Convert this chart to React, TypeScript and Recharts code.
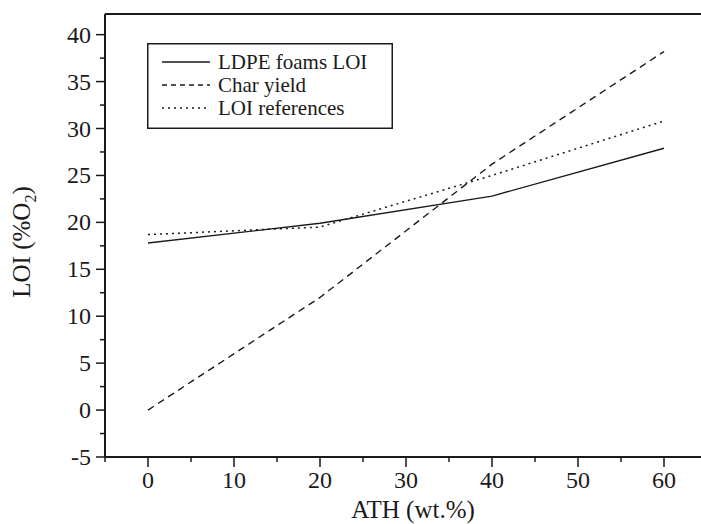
import React from "react";
import { LineChart, Line, XAxis, YAxis, ReferenceLine, Legend, Label } from "recharts";

// ATH content (wt.%)
const athContent = [0, 20, 40, 60];
const ldpeFoamsLoi = [17.8, 19.9, 22.8, 27.9];
const charYield = [0, 12, 26.2, 38.2];
const loiReferences = [18.7, 19.5, 25, 30.8];

const xTicks = [-5, 0, 5, 10, 15, 20, 25, 30, 35, 40, 45, 50, 55, 60, 65];
const yTicks = [-5, -2.5, 0, 2.5, 5, 7.5, 10, 12.5, 15, 17.5, 20, 22.5, 25, 27.5, 30, 32.5, 35, 37.5, 40];

const X_DOMAIN: [number, number] = [-5, 65];
const Y_DOMAIN: [number, number] = [-5, 42.2];

const series = [
  { key: "ldpe", name: "LDPE foams LOI", values: ldpeFoamsLoi, dash: undefined, legendDash: undefined, width: 1.4 },
  { key: "char", name: "Char yield", values: charYield, dash: "7 5", legendDash: "5 4", width: 1.4 },
  { key: "ref", name: "LOI references", values: loiReferences, dash: "2 4", legendDash: "2 4", width: 1.5 },
];

const data = athContent.map((ath, i) => {
  const row: any = { ath };
  series.forEach((s) => (row[s.key] = s.values[i]));
  return row;
});

const INK = "#1a1a1a";
const FONT = '"Liberation Serif", "Times New Roman", serif';

const XTick = ({ x, y, payload }: any) => {
  const major = payload.value % 10 === 0 && payload.value >= 0 && payload.value <= 60;
  return (
    <g>
      <line x1={x} x2={x} y1={y} y2={y + (major ? 10 : 5)} stroke={INK} strokeWidth={1.5} />
      {major && (
        <text x={x} y={y + 31} textAnchor="middle" fontSize={24} fontFamily={FONT} fill={INK}>
          {payload.value}
        </text>
      )}
    </g>
  );
};

const YTick = ({ x, y, payload }: any) => {
  const major = payload.value % 5 === 0;
  return (
    <g>
      <line x1={x - (major ? 9 : 5)} x2={x} y1={y} y2={y} stroke={INK} strokeWidth={1.5} />
      {major && (
        <text x={x - 14} y={y + 8} textAnchor="end" fontSize={24} fontFamily={FONT} fill={INK}>
          {String(payload.value)}
        </text>
      )}
    </g>
  );
};

// legend drawn in series order (recharts may reorder its payload)
const renderLegend = () => (
  <svg width={246} height={86} style={{ display: "block" }}>
    <rect x={0.75} y={0.75} width={244.5} height={84.5} fill="#fff" stroke={INK} strokeWidth={1.5} />
    {series.map((s, i) => {
      const cy = 19 + i * 23;
      return (
        <g key={s.key}>
          <line x1={15} x2={63} y1={cy} y2={cy} stroke={INK} strokeWidth={s.width} strokeDasharray={s.legendDash} />
          <text x={71} y={cy + 7} fontSize={21} fontFamily={FONT} fill={INK}>
            {s.name}
          </text>
        </g>
      );
    })}
  </svg>
);

export default function App() {
  return (
    <div style={{ position: "fixed", left: 0, top: 0, width: 701, height: 524, overflow: "hidden", background: "#fff" }}>
      <LineChart width={720} height={524} data={data} margin={{ top: 14, right: 13, left: 0, bottom: 0 }}>
        <XAxis
          type="number"
          dataKey="ath"
          domain={X_DOMAIN}
          ticks={xTicks}
          allowDataOverflow
          height={67}
          tickSize={0}
          tickMargin={0}
          tickLine={false}
          tick={<XTick />}
          axisLine={{ stroke: INK, strokeWidth: 2 }}
        >
          <Label
            content={() => (
              <text x={413} y={518} textAnchor="middle" fontSize={25} fontFamily={FONT} fill={INK}>
                ATH (wt.%)
              </text>
            )}
          />
        </XAxis>
        <YAxis
          type="number"
          domain={Y_DOMAIN}
          ticks={yTicks}
          allowDataOverflow
          width={105}
          tickSize={0}
          tickMargin={0}
          tickLine={false}
          tick={<YTick />}
          axisLine={{ stroke: INK, strokeWidth: 2 }}
        >
          <Label
            content={() => (
              <text transform="rotate(-90)" x={-242} y={30} textAnchor="middle" fontSize={25} fontFamily={FONT} fill={INK}>
                LOI (%O<tspan fontSize={16} dy={6}>2</tspan><tspan dy={-6}>)</tspan>
              </text>
            )}
          />
        </YAxis>
        <ReferenceLine y={Y_DOMAIN[1]} stroke={INK} strokeWidth={2} ifOverflow="visible" />
        <ReferenceLine x={X_DOMAIN[1]} stroke={INK} strokeWidth={2} ifOverflow="visible" />
        {series.map((s) => (
          <Line
            key={s.key}
            dataKey={s.key}
            name={s.name}
            type="linear"
            stroke={INK}
            strokeWidth={s.width}
            strokeDasharray={s.dash}
            dot={false}
            activeDot={false}
            isAnimationActive={false}
          />
        ))}
        <Legend
          layout="vertical"
          align="center"
          verticalAlign="middle"
          content={renderLegend}
          wrapperStyle={{ position: "absolute", left: 147, top: 43, width: 246, height: 86 }}
        />
      </LineChart>
    </div>
  );
}
